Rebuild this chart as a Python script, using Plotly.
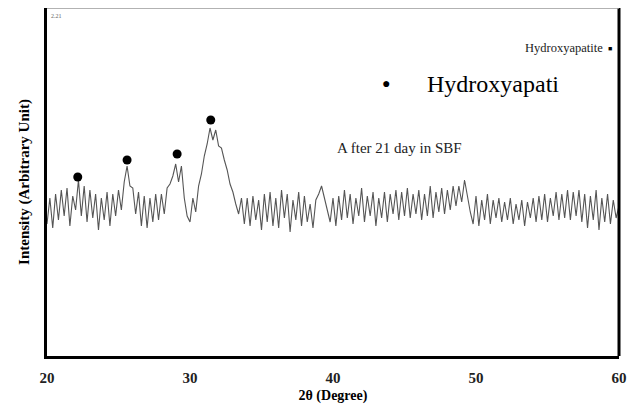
import plotly.graph_objects as go

# Scan start and step (degrees 2-theta)
two_theta_start = 20.0
two_theta_step = 0.2

# Intensity (arbitrary units), one value per scan step
intensity = [
    132, 158, 128, 162, 136, 166, 140, 168, 130, 160,   # 20.0-21.8
    146, 176, 140, 170, 134, 166, 138, 162, 126, 158,   # 22.0-23.8
    136, 164, 130, 162, 140, 166, 146, 174, 190, 170,   # 24.0-25.8
    168, 142, 164, 130, 160, 128, 158, 134, 162, 136,   # 26.0-27.8
    162, 142, 168, 172, 180, 192, 174, 190, 158, 140,   # 28.0-29.8
    134, 158, 144, 170, 182, 200, 212, 228, 216, 226,   # 30.0-31.8
    210, 208, 196, 186, 172, 164, 152, 142, 158, 132,   # 32.0-33.8
    158, 130, 160, 136, 156, 126, 162, 134, 164, 130,   # 34.0-35.8
    158, 128, 166, 138, 162, 124, 156, 136, 164, 130,   # 36.0-37.8
    160, 134, 152, 128, 156, 162, 170, 158, 146, 134,   # 38.0-39.8
    158, 130, 160, 136, 166, 138, 162, 132, 158, 140,   # 40.0-41.8
    168, 134, 160, 140, 164, 130, 158, 138, 164, 134,   # 42.0-43.8
    162, 142, 166, 136, 164, 140, 168, 138, 162, 142,   # 44.0-45.8
    166, 136, 162, 140, 170, 138, 164, 144, 168, 142,   # 46.0-47.8
    166, 146, 170, 150, 170, 154, 176, 158, 144, 132,   # 48.0-49.8
    160, 130, 156, 136, 162, 132, 156, 138, 158, 134,   # 50.0-51.8
    154, 136, 158, 132, 152, 136, 156, 130, 154, 138,   # 52.0-53.8
    158, 134, 160, 136, 162, 134, 158, 140, 164, 136,   # 54.0-55.8
    162, 138, 166, 136, 164, 140, 166, 134, 162, 128,   # 56.0-57.8
    160, 136, 166, 126, 158, 134, 162, 132, 156, 138,   # 58.0-59.8
    150,                                                # 60.0
]
two_theta = [round(two_theta_start + two_theta_step * i, 1) for i in range(len(intensity))]

# Hydroxyapatite peak markers
hap_peak_theta = [22.15, 25.6, 29.1, 31.45]
hap_peak_marker_y = [179, 196, 202, 236]

x_ticks = [20, 30, 40, 50, 60]
x_tick_labels = ["<b>20</b>", "<b>30</b>", "<b>40</b>", "<b>50</b>", "<b>60</b>"]

SERIF = "Liberation Serif, Times New Roman, serif"

fig = go.Figure()
fig.add_trace(go.Scatter(
    x=two_theta, y=intensity, mode="lines",
    line=dict(color="#555555", width=1.1),
    showlegend=False, hoverinfo="skip",
))
fig.add_trace(go.Scatter(
    x=hap_peak_theta, y=hap_peak_marker_y, mode="markers",
    marker=dict(color="black", size=9),
    showlegend=False, hoverinfo="skip",
))

# The page body adds an 8px offset, so the figure is 8px smaller and margins compensate.
fig.update_layout(
    width=629, height=401,
    margin=dict(l=39, r=18, t=0, b=53),
    paper_bgcolor="white", plot_bgcolor="white",
    font=dict(family=SERIF, color="black"),
    xaxis=dict(
        range=[20, 60], tickvals=x_ticks, ticktext=x_tick_labels,
        showgrid=False, zeroline=False, ticks="", automargin=False,
        showline=True, linecolor="black", linewidth=3,
        tickfont=dict(family=SERIF, size=15, color="#222"),
        ticklabelstandoff=6,
        title=dict(text="<b>2θ (Degree)</b>", font=dict(family=SERIF, size=14), standoff=6),
    ),
    yaxis=dict(
        range=[0, 348], showticklabels=False, showgrid=False, zeroline=False, ticks="",
        automargin=False,
        showline=True, linecolor="black", linewidth=3,
        title=dict(text="<b>Intensity (Arbitrary Unit)</b>", font=dict(family=SERIF, size=15), standoff=11),
    ),
    shapes=[
        dict(type="line", xref="paper", yref="paper", x0=1, x1=1, y0=0, y1=1,
             line=dict(color="black", width=3)),
        dict(type="line", xref="paper", yref="paper", x0=0, x1=1, y0=1, y1=1,
             line=dict(color="#999999", width=1.5)),
    ],
    annotations=[
        dict(x=0.004, y=0.99, xref="paper", yref="paper", text="2.21", showarrow=False,
             xanchor="left", yanchor="top", font=dict(size=6, color="#666")),
        dict(x=0.975, y=0.885, xref="paper", yref="paper", text="Hydroxyapatite", showarrow=False,
             xanchor="right", yanchor="middle", font=dict(size=12.5, color="#222")),
        dict(x=0.985, y=0.882, xref="paper", yref="paper", text="■", showarrow=False,
             xanchor="center", yanchor="middle", font=dict(size=7, color="black")),
        dict(x=0.593, y=0.783, xref="paper", yref="paper", text="●", showarrow=False,
             xanchor="center", yanchor="middle", font=dict(size=14, color="black")),
        dict(x=0.66, y=0.783, xref="paper", yref="paper", text="Hydroxyapati", showarrow=False,
             xanchor="left", yanchor="middle", font=dict(size=24, color="black")),
        dict(x=0.503, y=0.598, xref="paper", yref="paper", text="A fter 21 day in SBF", showarrow=False,
             xanchor="left", yanchor="middle", font=dict(size=15, color="#222")),
    ],
)

fig.write_html("out.html")
